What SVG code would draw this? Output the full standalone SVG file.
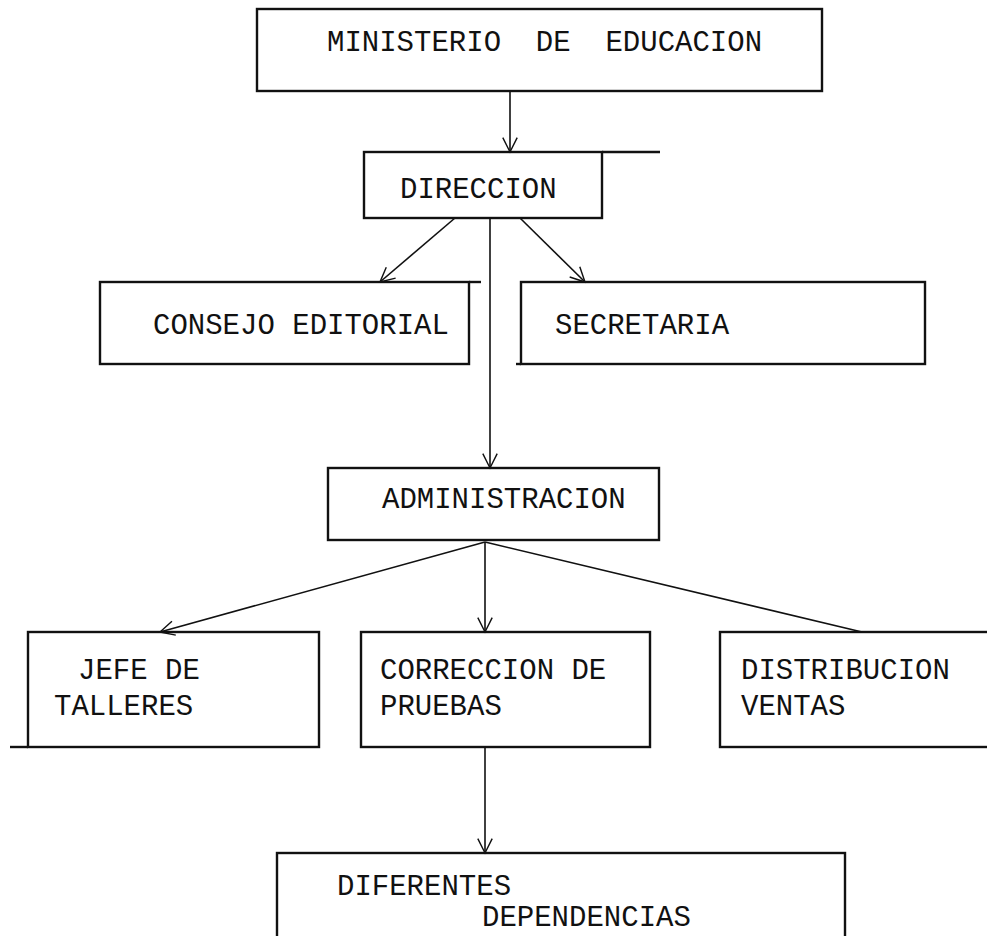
<svg xmlns="http://www.w3.org/2000/svg" width="987" height="936" viewBox="0 0 987 936">
<defs>
<style>
.box{fill:none;stroke:#111;stroke-width:2.4}
.ext{fill:none;stroke:#111;stroke-width:2.4}
.con{fill:none;stroke:#111;stroke-width:1.6}
.t{font-family:"Liberation Mono","DejaVu Sans Mono",monospace;font-size:29px;fill:#111;white-space:pre}
</style>
<marker id="ah" viewBox="0 0 20 20" refX="18" refY="10" markerWidth="18" markerHeight="18" markerUnits="userSpaceOnUse" orient="auto">
<path d="M2,2 L18,10 L2,18" fill="none" stroke="#111" stroke-width="1.6"/>
</marker>
</defs>
<rect width="987" height="936" fill="#fff"/>
<g id="ministerio">
<rect class="box" x="257" y="9" width="565" height="82"/>
<text class="t" x="327" y="51">MINISTERIO  DE  EDUCACION</text>
</g>
<g id="direccion">
<rect class="box" x="364" y="152" width="238" height="66"/>
<line class="ext" x1="602" y1="152" x2="660" y2="152"/>
<text class="t" x="400" y="198">DIRECCION</text>
</g>
<g id="consejo">
<rect class="box" x="100" y="282" width="369" height="82"/>
<line class="ext" x1="469" y1="282" x2="481" y2="282"/>
<text class="t" x="153" y="334">CONSEJO EDITORIAL</text>
</g>
<g id="secretaria">
<rect class="box" x="521" y="282" width="404" height="82"/>
<line class="ext" x1="516" y1="364" x2="521" y2="364"/>
<text class="t" x="555" y="334">SECRETARIA</text>
</g>
<g id="administracion">
<rect class="box" x="328" y="468" width="331" height="72"/>
<text class="t" x="382" y="508">ADMINISTRACION</text>
</g>
<g id="jefe">
<rect class="box" x="28" y="632" width="291" height="115"/>
<line class="ext" x1="10" y1="747" x2="28" y2="747"/>
<text class="t" x="78" y="679">JEFE DE</text>
<text class="t" x="54" y="715">TALLERES</text>
</g>
<g id="correccion">
<rect class="box" x="361" y="632" width="289" height="115"/>
<text class="t" x="380" y="679">CORRECCION DE</text>
<text class="t" x="380" y="715">PRUEBAS</text>
</g>
<g id="distribucion">
<rect class="box" x="720" y="632" width="280" height="115"/>
<text class="t" x="741" y="679">DISTRIBUCION</text>
<text class="t" x="741" y="715">VENTAS</text>
</g>
<g id="diferentes">
<rect class="box" x="277" y="853" width="568" height="100"/>
<text class="t" x="337" y="895">DIFERENTES</text>
<text class="t" x="482" y="926">DEPENDENCIAS</text>
</g>
<g id="connectors">
<line class="con" x1="510" y1="91" x2="510" y2="152" marker-end="url(#ah)"/>
<line class="con" x1="455" y1="218" x2="380" y2="282" marker-end="url(#ah)"/>
<line class="con" x1="520" y1="218" x2="585" y2="282" marker-end="url(#ah)"/>
<line class="con" x1="490" y1="218" x2="490" y2="468" marker-end="url(#ah)"/>
<line class="con" x1="485" y1="542" x2="160" y2="632" marker-end="url(#ah)"/>
<line class="con" x1="485" y1="542" x2="485" y2="632" marker-end="url(#ah)"/>
<line class="con" x1="485" y1="542" x2="862" y2="632"/>
<line class="con" x1="485" y1="747" x2="485" y2="853" marker-end="url(#ah)"/>
</g>
</svg>
